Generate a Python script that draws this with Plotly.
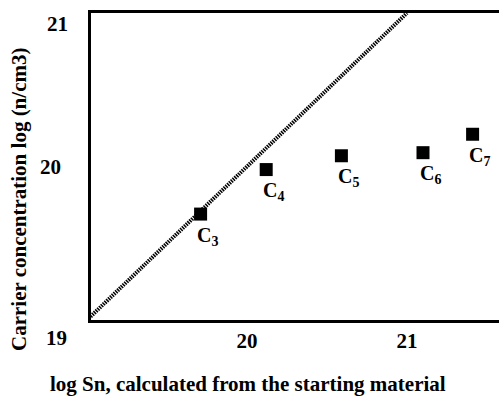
import plotly.graph_objects as go

# Data
sample_labels = ["C<sub>3</sub>", "C<sub>4</sub>", "C<sub>5</sub>", "C<sub>6</sub>", "C<sub>7</sub>"]
log_sn = [19.71, 20.12, 20.59, 21.10, 21.41]
log_carrier = [19.69, 19.98, 20.07, 20.09, 20.21]
ideal_x = [19.0, 21.0]
ideal_y = [19.0, 21.0]
x_title = "log Sn, calculated from the starting material"
y_title = "Carrier concentration log (n/cm3)"

FONT = "Liberation Serif"
BOLD = dict(family=FONT, size=21, color="black", weight="bold")

fig = go.Figure()
fig.add_trace(go.Scatter(
    x=ideal_x, y=ideal_y, mode="lines",
    line=dict(color="black", width=4, dash="1.5px,1px"),
    hoverinfo="skip", showlegend=False,
))
fig.add_trace(go.Scatter(
    x=log_sn, y=log_carrier, mode="markers",
    marker=dict(symbol="square", size=13, color="black"),
    showlegend=False,
))

for xv, yv, lab in zip(log_sn, log_carrier, sample_labels):
    fig.add_annotation(
        x=xv, y=yv, xref="x", yref="y", text=lab,
        xanchor="center", yanchor="middle",
        showarrow=False, xshift=7, yshift=-22,
        font=dict(family=FONT, size=20, color="black", weight="bold"),
    )

# corner tick label shared by both axes, and top y tick label
fig.add_annotation(x=0, y=0, xref="paper", yref="paper", text="19",
                   xanchor="center", yanchor="middle",
                   showarrow=False, xshift=-35, yshift=-18, font=BOLD)
fig.add_annotation(x=0, y=21.0, xref="paper", yref="y", text="21",
                   xanchor="center", yanchor="middle",
                   showarrow=False, xshift=-34, yshift=-11, font=BOLD)

# axis titles (placed as in the reference, off-centre)
fig.add_annotation(x=(248 - 91) / 408, y=0, xref="paper", yref="paper",
                   text=x_title, xanchor="center", yanchor="middle",
                   showarrow=False, yshift=-64, font=BOLD)
fig.add_annotation(x=0, y=(320 - 200) / 307, xref="paper", yref="paper",
                   text=y_title, textangle=-90, xanchor="center", yanchor="middle",
                   showarrow=False, xshift=-72, font=BOLD)

fig.update_layout(
    width=499, height=397,
    margin=dict(l=91, r=0, t=13, b=77),
    plot_bgcolor="white", paper_bgcolor="white",
    font=BOLD,
    xaxis=dict(
        range=[19.025, 21.575], showgrid=False, zeroline=False, automargin=False,
        showline=True, linecolor="black", linewidth=2.5, mirror=True,
        tickvals=[20, 21], ticktext=["20", "21"], tickfont=BOLD,
        ticks="", ticklabelstandoff=0,
    ),
    yaxis=dict(
        range=[19.0, 21.0], showgrid=False, zeroline=False, automargin=False,
        showline=True, linecolor="black", linewidth=2.5, mirror=False,
        tickvals=[20], ticktext=["20"], tickfont=BOLD,
        ticks="", ticklabelstandoff=23,
    ),
)

fig.write_html("out.html")
